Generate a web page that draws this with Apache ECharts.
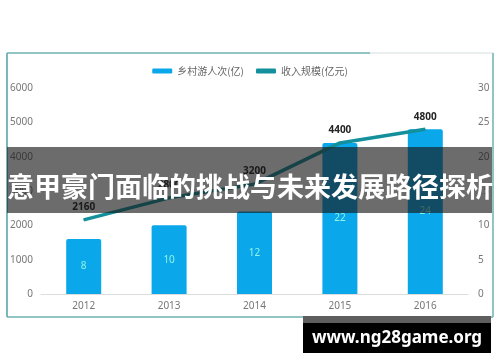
<!DOCTYPE html>
<html><head><meta charset="utf-8">
<script src="https://cdn.jsdelivr.net/npm/echarts@6/dist/echarts.min.js"></script>
<style>html,body{margin:0;padding:0;background:#fff}#c{width:500px;height:362px}</style>
</head><body><div id="c"></div>
<script>
var categories = ['2012','2013','2014','2015','2016'];
var visitors = [8, 10, 12, 22, 24];
var revenue = [2160, 2800, 3200, 4400, 4800];
var leftTicks = [0, 6000, 1000];
var rightTicks = [0, 30, 5];
var seriesNames = ['乡村游人次(亿)', '收入规模(亿元)'];
var title = '意甲豪门面临的挑战与未来发展路径探析';
var watermark = 'www.ng28game.org';

var chart = echarts.init(document.getElementById('c'));
var axisLabel = {color:'#777', fontSize:10, fontFamily:'Noto Sans'};
chart.setOption({
  backgroundColor:'#fff',
  animation:false,
  legend:{top:61, left:'center', itemGap:12, itemWidth:20, itemHeight:5,
    textStyle:{color:'#666', fontSize:10, fontFamily:'Noto Sans CJK SC'},
    data:[{name:seriesNames[0], icon:'roundRect'}, {name:seriesNames[1], icon:'roundRect'}]},
  grid:{left:41, right:32, top:88, bottom:68},
  xAxis:{type:'category', data:categories,
    axisLine:{lineStyle:{color:'#ddd'}}, axisTick:{show:false},
    axisLabel:Object.assign({margin:7}, axisLabel)},
  yAxis:[
    {type:'value', min:leftTicks[0], max:leftTicks[1], interval:leftTicks[2],
     splitLine:{show:false}, axisLine:{show:false}, axisTick:{show:false},
     axisLabel:Object.assign({margin:8, formatter:function(v){return String(v);}}, axisLabel)},
    {type:'value', min:rightTicks[0], max:rightTicks[1], interval:rightTicks[2],
     splitLine:{show:false}, axisLine:{show:false}, axisTick:{show:false},
     axisLabel:Object.assign({margin:10}, axisLabel)}
  ],
  series:[
    {name:seriesNames[0], type:'bar', yAxisIndex:1, data:visitors, barWidth:35,
     itemStyle:{color:'#0aa7ea', borderRadius:[2,2,0,0]},
     label:{show:true, position:'inside', color:'#8ff5e6', fontSize:10, fontFamily:'Noto Sans'}},
    {name:seriesNames[1], type:'line', yAxisIndex:0, data:revenue, z:3,
     symbol:'circle', symbolSize:1, showSymbol:true,
     lineStyle:{color:'#13909c', width:3.5}, itemStyle:{color:'#13909c'},
     label:{show:true, position:'top', distance:7, color:'#222', fontSize:10, fontWeight:'bold', fontFamily:'Noto Sans'}}
  ],
  graphic:[
    {type:'line', z:1, shape:{x1:7,y1:53,x2:370,y2:53}, style:{stroke:'#6cb0b2', lineWidth:1.5}},
    {type:'line', z:1, shape:{x1:370,y1:53,x2:493,y2:53}, style:{stroke:'#e4e8e8', lineWidth:1.5}},
    {type:'line', z:1, shape:{x1:7,y1:53,x2:7,y2:317}, style:{stroke:'#6cb0b2', lineWidth:1.8}},
    {type:'line', z:1, shape:{x1:493,y1:53,x2:493,y2:317}, style:{stroke:'#6cb0b2', lineWidth:1.5}},
    {type:'line', z:1, shape:{x1:7,y1:317,x2:493,y2:317}, style:{stroke:'#6cb0b2', lineWidth:1.5}},
    {type:'rect', z:100, shape:{x:7,y:147,width:485,height:66}, style:{fill:'rgba(22,22,22,0.63)'}},
    {type:'text', z:101, x:250, y:187, style:{text:title, fill:'#fff', font:'bold 27px "Noto Sans CJK SC"', textAlign:'center', textVerticalAlign:'middle'}},
    {type:'rect', z:100, shape:{x:303,y:316,width:188,height:8}, style:{fill:'#5e5e5e'}},
    {type:'rect', z:100, shape:{x:303,y:323,width:188,height:30}, style:{fill:'#000'}},
    {type:'text', z:101, x:397, y:338, style:{text:watermark, fill:'#fff', font:'bold 17px "Noto Sans"', textAlign:'center', textVerticalAlign:'middle'}}
  ]
});
</script></body></html>
